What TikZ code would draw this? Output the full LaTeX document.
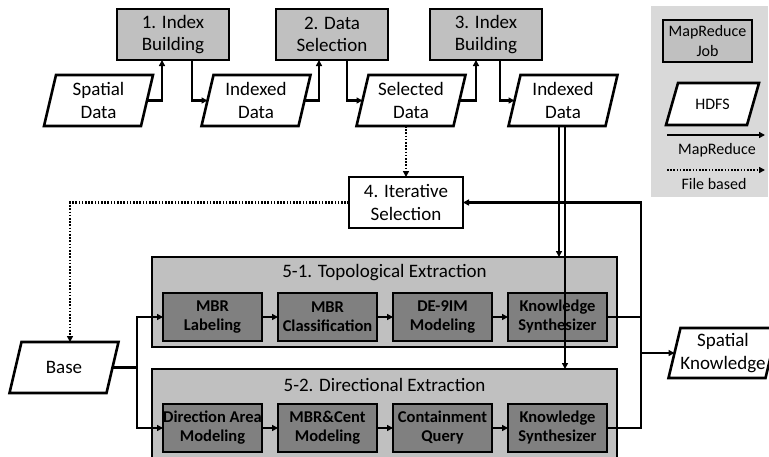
\documentclass[tikz,border=0pt]{standalone}
\usepackage{fontspec}
\setmainfont{Carlito}
\usetikzlibrary{arrows.meta}
\pgfdeclarelayer{back}
\pgfdeclarelayer{shapes}
\pgfsetlayers{back,shapes,main}
\definecolor{jobgray}{HTML}{C0C0C0}
\definecolor{stepgray}{HTML}{808080}
\definecolor{keygray}{HTML}{D9D9D9}

\begin{document}
\begin{tikzpicture}[x=1pt,y=-1pt,
  line join=miter,
  every node/.style={inner sep=0pt, outer sep=0pt, align=center},
  lw/.style={line width=2.6pt},
  bigfont/.style={font=\fontsize{19}{22.5}\selectfont},
  keyfont/.style={font=\fontsize{16}{20}\selectfont},
  job/.style={fill=jobgray, minimum width=112pt, minimum height=51pt, bigfont},
  hdfs/.style={minimum width=97pt, minimum height=51pt, bigfont},
  plainbox/.style={fill=white, minimum width=114pt, minimum height=51pt, bigfont},
  stage/.style={fill=jobgray, minimum width=465pt},
  unit/.style={fill=stepgray, minimum width=99pt, minimum height=48pt,
    font=\fontsize{16.5}{19}\selectfont\bfseries},
  frame/.style={lw, draw=black},
  link/.style={lw},
  arr/.style={lw, -{Triangle[length=6pt,width=6pt]}},
  farr/.style={lw, dash pattern=on 1.6pt off 1.6pt, -{Triangle[length=6pt,width=6pt]}}]
\useasboundingbox (0,0) rectangle (769,456);

% legend panel
\begin{pgfonlayer}{back}
  \node[fill=keygray, minimum width=117pt, minimum height=191pt] (key) at (709.5,101.5) {};
\end{pgfonlayer}

% MapReduce jobs of the preparation phase
\node[job] (b1) at (173,34.5) {1. Index\\Building};
\node[job] (b2) at (332,34.5) {2. Data\\Selection};
\node[job] (b3) at (486,34.5) {3. Index\\Building};

% HDFS data sets
\node[hdfs] (sd)  at (98.5,100.5) {Spatial\\Data};
\node[hdfs] (id1) at (256,100.5)  {Indexed\\Data};
\node[hdfs] (sel) at (411,100.5)  {Selected\\Data};
\node[hdfs] (id2) at (563,100.5)  {Indexed\\Data};
\node[hdfs] (base) at (64,367.5)  {Base};
\node[hdfs, minimum height=50pt] (sk) at (723,353) {Spatial\\Knowledge};

% iterative selection
\node[plainbox] (it) at (406,202.5) {4. Iterative\\Selection};

% extraction stages (the lower one runs past the bottom edge)
\node[stage, minimum height=90pt] (tb) at (384.5,302) {};
\node[stage, minimum height=101pt] (db) at (384.5,419.5) {};
\node[bigfont] (tbt) at (384.5,273) {5-1. Topological Extraction};
\node[bigfont] (dbt) at (384.5,385) {5-2. Directional Extraction};

\node[unit] (t1) at (212.5,317) {MBR\\Labeling};
\node[unit] (t2) at (327.5,317) {MBR\\Classification};
\node[unit] (t3) at (442.5,317) {DE-9IM\\Modeling};
\node[unit] (t4) at (557.5,317) {Knowledge\\Synthesizer};

\node[unit] (d1) at (212.5,428) {Direction Area\\Modeling};
\node[unit] (d2) at (327.5,428) {MBR\&Cent\\Modeling};
\node[unit] (d3) at (442.5,428) {Containment\\Query};
\node[unit] (d4) at (557.5,428) {Knowledge\\Synthesizer};

% legend entries
\node[job, minimum width=89pt, minimum height=42pt, keyfont] (kj) at (707.5,41) {MapReduce\\Job};
\node[hdfs, minimum width=81pt, minimum height=42pt, keyfont] (lg) at (712.5,104) {HDFS};
\coordinate (ka) at (667,135);
\coordinate (kb) at (765,135);
\node[keyfont] (kt1) at (717,150) {MapReduce};
\coordinate (kc) at (667,170);
\coordinate (kd) at (765,170);
\node[keyfont] (kt2) at (714,184) {File based};

% box outlines, traced corner to corner
\foreach \n in {b1,b2,b3,it,tb,db,t1,t2,t3,t4,d1,d2,d3,d4,kj}
  \draw[frame] (\n.south west) -- (\n.south east) -- (\n.north east)
    -- (\n.north west) -- cycle;

% parallelogram outlines behind the data labels
\begin{pgfonlayer}{shapes}
  \foreach \n in {sd,id1,sel,id2,base,sk,lg}
    \filldraw[frame, fill=white] ([xshift=6pt]\n.north west) -- ([xshift=6pt]\n.north east)
      -- ([xshift=-6pt]\n.south east) -- ([xshift=-6pt]\n.south west) -- cycle;
\end{pgfonlayer}

% preparation chain
\draw[arr] (sd.east) -| ([xshift=-11pt]b1.south);
\draw[arr] ([xshift=19pt]b1.south) |- (id1.west);
\draw[arr] (id1.east) -| ([xshift=-13pt]b2.south);
\draw[arr] ([xshift=15pt]b2.south) |- (sel.west);
\draw[arr] (sel.east) -| ([xshift=-10pt]b3.south);
\draw[arr] ([xshift=14pt]b3.south) |- (id2.west);

% file based flows
\draw[farr] (it.north |- sel.south) -- (it.north);
\draw[farr] (it.west) -| ([xshift=6pt]base.north);

% base feeds both extractions
\coordinate (fork) at (137,367.5);
\draw[link] (base.east) -- (fork);
\draw[arr] (fork) |- (t1.west);
\draw[arr] (fork) |- (d1.west);

% steps inside the stages
\draw[arr] (t1.east) -- (t2.west);
\draw[arr] (t2.east) -- (t3.west);
\draw[arr] (t3.east) -- (t4.west);
\draw[arr] (d1.east) -- (d2.west);
\draw[arr] (d2.east) -- (d3.west);
\draw[arr] (d3.east) -- (d4.west);

% indexed data to both stages
\draw[arr] ([xshift=-4pt]id2.south) -- ([xshift=-4pt]id2.south |- tb.north);
\draw[arr] ([xshift=2pt]id2.south) -- ([xshift=2pt]id2.south |- db.north);

% outputs and feedback
\coordinate (jx) at (641,0);
\draw[link] (t4.east) -- (t4.east -| jx);
\draw[arr] (d4.east) -| (it.east -| jx) -- (it.east);
\draw[arr] (sk.west -| jx) -- (sk.west);

% legend arrows
\draw[arr] (ka) -- (kb);
\draw[farr] (kc) -- (kd);
\end{tikzpicture}
\end{document}
